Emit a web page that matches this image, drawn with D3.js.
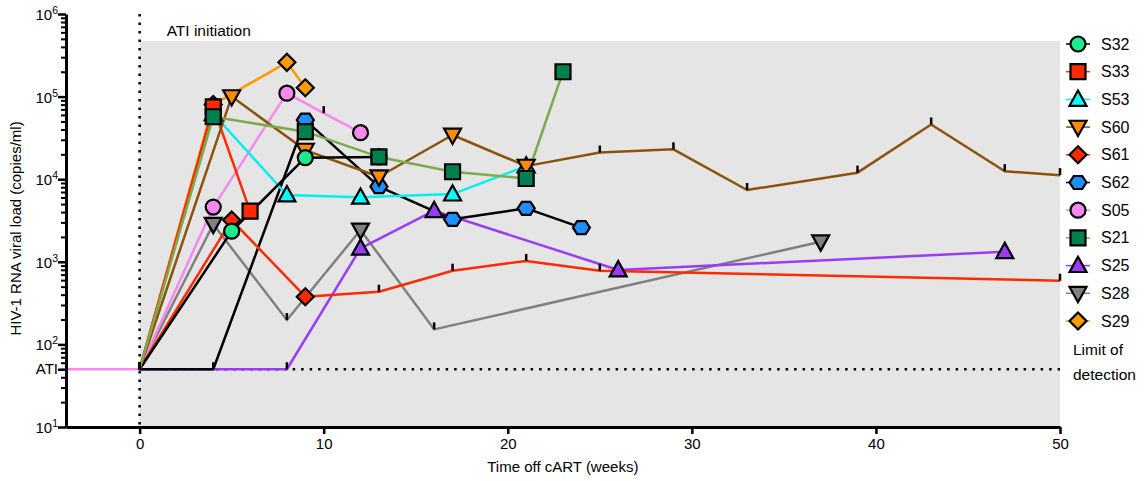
<!DOCTYPE html>
<html>
<head>
<meta charset="utf-8">
<script src="https://cdn.jsdelivr.net/npm/d3@7"></script>
<style>
  body { margin: 0; background: #fff; }
  text { font-family: "Liberation Sans", Arial, sans-serif; fill: #000; }
</style>
</head>
<body>
<svg id="chart" width="1147" height="481"></svg>
<script>
// weeks off cART and viral load (copies/ml) per subject
const weeksS32 = [0, 5, 9, 13];
const loadS32  = [50, 2350, 18200, 18600];
const weeksS33 = [0, 4, 6];
const loadS33  = [50, 75000, 4100];
const weeksS53 = [0, 4, 8, 12, 17, 21];
const loadS53  = [50, 62000, 6440, 6030, 6600, 14400];
const weeksS60 = [0, 5, 9, 13, 17, 21, 25, 29, 33, 39, 43, 47, 50];
const loadS60  = [50, 100000, 22500, 10700, 34300, 14400, 21000, 23000, 7400, 12000, 46000, 12500, 11200];
const weeksS61 = [0, 5, 9, 13, 17, 21, 25, 50];
const loadS61  = [50, 3200, 378, 434, 780, 1025, 780, 590];
const weeksS62 = [0, 4, 9, 13, 17, 21, 24];
const loadS62  = [50, 50, 52000, 8140, 3270, 4440, 2590];
const weeksS05 = [-4, 0, 4, 8, 10, 12];
const loadS05  = [50, 50, 4600, 110000, 63000, 36600];
const weeksS21 = [0, 4, 9, 13, 17, 21, 23];
const loadS21  = [50, 57000, 37600, 18600, 12300, 10200, 200000];
const weeksS25 = [0, 8, 12, 16, 26, 47];
const loadS25  = [50, 50, 1456, 4160, 795, 1325];
const weeksS28 = [0, 4, 8, 12, 16, 37];
const loadS28  = [50, 2850, 197, 2430, 152, 1750];
const weeksS29 = [0, 4, 8, 9];
const loadS29  = [50, 80000, 260000, 128000];

// time points plotted without a symbol (just a small tick)
const plainS32 = [0];
const plainS33 = [0];
const plainS53 = [0];
const plainS60 = [0, 25, 29, 33, 39, 43, 47, 50];
const plainS61 = [0, 13, 17, 21, 25, 50];
const plainS62 = [0, 4];
const plainS05 = [0, 10];
const plainS21 = [0];
const plainS25 = [0, 8];
const plainS28 = [0, 8, 16];
const plainS29 = [0];

const limitOfDetection = 50;
const xTicks = [0, 10, 20, 30, 40, 50];
const yDecades = [10, 100, 1000, 10000, 100000, 1000000];

const series = [
  { name: "S32", w: weeksS32, v: loadS32, plain: plainS32, shape: "circle",  fill: "#1beb8d", line: "#000000" },
  { name: "S33", w: weeksS33, v: loadS33, plain: plainS33, shape: "square",  fill: "#ff2a00", line: "#ff2a00" },
  { name: "S53", w: weeksS53, v: loadS53, plain: plainS53, shape: "triUp",   fill: "#00ffff", line: "#00f0f0" },
  { name: "S60", w: weeksS60, v: loadS60, plain: plainS60, shape: "triDown", fill: "#ff8c00", line: "#8c5208" },
  { name: "S61", w: weeksS61, v: loadS61, plain: plainS61, shape: "diamond", fill: "#ff2a00", line: "#ff2a00" },
  { name: "S62", w: weeksS62, v: loadS62, plain: plainS62, shape: "hexagon", fill: "#1e8fff", line: "#000000" },
  { name: "S05", w: weeksS05, v: loadS05, plain: plainS05, shape: "circle",  fill: "#f987f0", line: "#f987f0" },
  { name: "S21", w: weeksS21, v: loadS21, plain: plainS21, shape: "square",  fill: "#008050", line: "#7aab4c" },
  { name: "S25", w: weeksS25, v: loadS25, plain: plainS25, shape: "triUp",   fill: "#9a3cf5", line: "#9a3cf5" },
  { name: "S28", w: weeksS28, v: loadS28, plain: plainS28, shape: "triDown", fill: "#808080", line: "#808080" },
  { name: "S29", w: weeksS29, v: loadS29, plain: plainS29, shape: "diamond", fill: "#ff9a00", line: "#ff9a00" }
];
// order the symbols are stacked in (last on top)
const drawOrder = ["S29", "S28", "S25", "S05", "S62", "S61", "S53", "S33", "S60", "S32", "S21"];

const svg = d3.select("#chart");

const x = d3.scaleLinear().domain([-4, 50]).range([66, 1060]);
const y = d3.scaleLog().domain([10, 1e6]).range([427, 14]);

function shapePath(type, s) {
  switch (type) {
    case "circle": return d3.symbol(d3.symbolCircle, Math.PI * s * s)();
    case "square": return `M${-s},${-s}H${s}V${s}H${-s}Z`;
    case "triUp": return `M0,${-s * 1.05}L${s},${s * 0.75}L${-s},${s * 0.75}Z`;
    case "triDown": return `M0,${s * 1.05}L${s},${-s * 0.75}L${-s},${-s * 0.75}Z`;
    case "diamond": return `M0,${-s}L${s},0L0,${s}L${-s},0Z`;
    case "hexagon":
      return "M" + d3.range(6).map(i => {
        const a = i * Math.PI / 3;
        return [s * Math.cos(a), s * 0.88 * Math.sin(a)].join(",");
      }).join("L") + "Z";
  }
}
const shapeSize = { circle: 7.5, square: 7.5, triUp: 8.5, triDown: 8.5, diamond: 8.5, hexagon: 8.5 };

// ATI period shading
svg.append("rect")
  .attr("x", x(0)).attr("y", 41)
  .attr("width", x(50) - x(0)).attr("height", y(10) - 41)
  .attr("fill", "#e5e5e5");

svg.append("text").attr("x", x(0) + 27).attr("y", 36)
  .attr("font-size", 15.5).text("ATI initiation");

// ATI start line and limit of detection
svg.append("line")
  .attr("x1", x(0)).attr("x2", x(0)).attr("y1", y(1e6)).attr("y2", y(10))
  .attr("stroke", "#000").attr("stroke-width", 2.5).attr("stroke-dasharray", "2.5,6");
svg.append("line")
  .attr("x1", x(0)).attr("x2", x(50)).attr("y1", y(limitOfDetection)).attr("y2", y(limitOfDetection))
  .attr("stroke", "#000").attr("stroke-width", 2.5).attr("stroke-dasharray", "2.5,6");

const line = d3.line().x(d => x(d[0])).y(d => y(d[1]));
const byName = new Map(series.map(s => [s.name, s]));
const ordered = drawOrder.map(n => byName.get(n));

const linesG = svg.append("g");
ordered.forEach(s => {
  linesG.append("path")
    .datum(s.w.map((w, i) => [w, s.v[i]]))
    .attr("d", line)
    .attr("fill", "none")
    .attr("stroke", s.line)
    .attr("stroke-width", 2.5)
    .attr("stroke-linejoin", "round");
});

const ticksG = svg.append("g");
ordered.forEach(s => {
  s.w.forEach((w, i) => {
    if (!s.plain.includes(w) || w < 0) return;
    ticksG.append("line")
      .attr("x1", x(w)).attr("x2", x(w))
      .attr("y1", y(s.v[i])).attr("y2", y(s.v[i]) - 7)
      .attr("stroke", "#000").attr("stroke-width", 2.5);
  });
});

const marksG = svg.append("g");
ordered.forEach(s => {
  s.w.forEach((w, i) => {
    if (s.plain.includes(w) || w < 0) return;
    marksG.append("path")
      .attr("d", shapePath(s.shape, shapeSize[s.shape]))
      .attr("transform", `translate(${x(w)},${y(s.v[i])})`)
      .attr("fill", s.fill)
      .attr("stroke", "#000")
      .attr("stroke-width", 2.2)
      .attr("stroke-linejoin", "miter");
  });
});

// x axis
const xAxis = svg.append("g")
  .attr("transform", `translate(0,${y(10)})`)
  .call(d3.axisBottom(x).tickValues(xTicks).tickSize(7).tickSizeOuter(0).tickPadding(4));
xAxis.select(".domain").attr("stroke-width", 3);
xAxis.selectAll(".tick line").attr("stroke-width", 2.5);
xAxis.selectAll(".tick text").attr("font-size", 15).attr("font-family", "Liberation Sans, Arial, sans-serif");

svg.append("text")
  .attr("x", (x(0) + x(50)) / 2 - 37).attr("y", 472)
  .attr("text-anchor", "middle").attr("font-size", 15)
  .text("Time off cART (weeks)");

// y axis
const minorVals = [];
yDecades.slice(0, -1).forEach(d => { for (let k = 2; k <= 9; k++) minorVals.push(d * k); });

const yAxisMinor = svg.append("g")
  .attr("transform", `translate(${x(-4)},0)`)
  .call(d3.axisLeft(y).tickValues(minorVals).tickSize(5).tickSizeOuter(0).tickFormat(""));
yAxisMinor.select(".domain").attr("stroke-width", 3);
yAxisMinor.selectAll(".tick line").attr("stroke-width", 2);

const yAxisMajor = svg.append("g")
  .attr("transform", `translate(${x(-4)},0)`)
  .call(d3.axisLeft(y).tickValues(yDecades.concat([limitOfDetection])).tickSize(8).tickSizeOuter(0).tickFormat(""));
yAxisMajor.select(".domain").remove();
yAxisMajor.selectAll(".tick line").attr("stroke-width", 2.5);

yDecades.forEach(d => {
  const t = svg.append("text")
    .attr("x", x(-4) - 8).attr("y", y(d) + 6)
    .attr("text-anchor", "end").attr("font-size", 15);
  t.append("tspan").text("10");
  t.append("tspan").attr("font-size", 10.5).attr("dy", -6).text(Math.round(Math.log10(d)));
});
svg.append("text")
  .attr("x", x(-4) - 8).attr("y", y(limitOfDetection) + 5)
  .attr("text-anchor", "end").attr("font-size", 15).text("ATI");

svg.append("text")
  .attr("transform", `translate(21,${(y(1e6) + y(10)) / 2 + 8}) rotate(-90)`)
  .attr("text-anchor", "middle").attr("font-size", 15)
  .text("HIV-1 RNA viral load (copies/ml)");

// legend
const legend = svg.append("g");
series.forEach((s, i) => {
  const cy = 44 + i * 27.7;
  legend.append("line")
    .attr("x1", 1066).attr("x2", 1090).attr("y1", cy).attr("y2", cy)
    .attr("stroke", s.line).attr("stroke-width", 1.5);
  legend.append("path")
    .attr("d", shapePath(s.shape, shapeSize[s.shape]))
    .attr("transform", `translate(1078,${cy})`)
    .attr("fill", s.fill).attr("stroke", "#000").attr("stroke-width", 2.2);
  legend.append("text")
    .attr("x", 1101).attr("y", cy + 5.5).attr("font-size", 16).text(s.name);
});
legend.append("text").attr("x", 1073).attr("y", 355).attr("font-size", 15.5).text("Limit of");
legend.append("text").attr("x", 1073).attr("y", 380).attr("font-size", 15.5).text("detection");
</script>
</body>
</html>
